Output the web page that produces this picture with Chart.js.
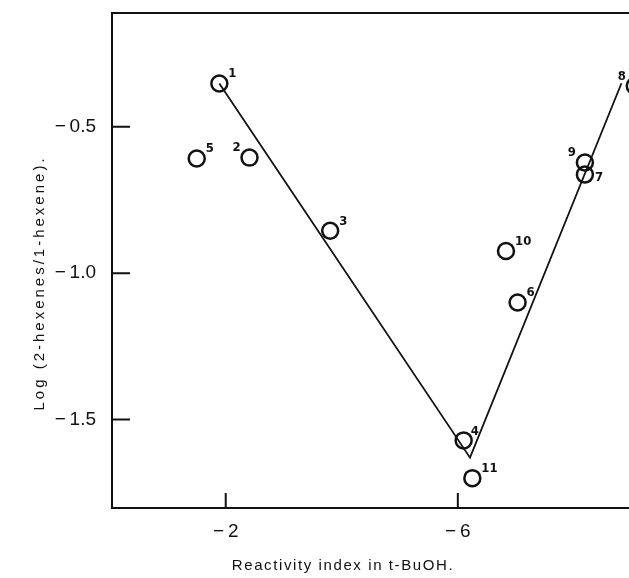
<!DOCTYPE html>
<html>
<head>
<meta charset="utf-8">
<script src="https://cdn.jsdelivr.net/npm/chart.js@4.4.1/dist/chart.umd.min.js"></script>
<style>
  html, body { margin: 0; padding: 0; background: #fff; }
  #wrap { width: 629px; height: 578px; }
</style>
</head>
<body>
<div id="wrap"><canvas id="myChart"></canvas></div>
<script>
// compounds (point numbers), reactivity index and log ratio
var pointLabels = ["1", "2", "3", "4", "5", "6", "7", "8", "9", "10", "11"];
var reactivity  = [-1.89, -2.41, -3.80, -6.10, -1.50, -7.03, -8.19, -9.05, -8.19, -6.83, -6.25];
var logRatio    = [-0.352, -0.605, -0.855, -1.571, -0.608, -1.100, -0.663, -0.360, -0.622, -0.924, -1.700];

// the drawn V-shaped line
var lineX = [-1.89, -6.21, -8.82];
var lineY = [-0.352, -1.63, -0.351];

var xTicks = [-2, -6];
var yTicks = [-0.5, -1.0, -1.5];

var xTitle = "Reactivity index in t-BuOH.";
var yTitle = "Log (2-hexenes/1-hexene).";

function minus(v, digits) {
    var s = Math.abs(v).toFixed(digits);
    return v < 0 ? "\u2212\u2009" + s : s;
}

// little numbers next to the circles
var labelPlugin = {
    id: 'pointNumbers',
    afterDatasetsDraw: function(chart) {
        var ctx = chart.ctx;
        var meta = chart.getDatasetMeta(1);
        ctx.save();
        ctx.fillStyle = '#111';
        ctx.font = 'bold 13px "Liberation Sans Narrow", "DejaVu Sans Condensed", sans-serif';
        ctx.textBaseline = 'bottom';
        meta.data.forEach(function(pt, i) {
            var lab = pointLabels[i];
            var dx = 9, dy = -3, align = 'left';
            if (lab === "2" || lab === "9" || lab === "8") { dx = -9; align = 'right'; }
            if (lab === "7") { dy = 10; dx = 10; }
            if (lab === "4") { dx = 7; dy = -2; }
            ctx.textAlign = align;
            ctx.fillText(lab, pt.x + dx, pt.y + dy);
        });
        ctx.restore();
    }
};

// frame top, inward tick marks, axis titles
var framePlugin = {
    id: 'frame',
    afterDraw: function(chart) {
        var ctx = chart.ctx;
        var a = chart.chartArea;
        var xs = chart.scales.x, ys = chart.scales.y;
        ctx.save();
        ctx.strokeStyle = '#111';
        ctx.lineWidth = 2;
        ctx.beginPath();
        ctx.moveTo(a.left - 1, a.top);
        ctx.lineTo(a.right, a.top);
        xTicks.forEach(function(v) {
            var px = xs.getPixelForValue(v);
            ctx.moveTo(px, a.bottom);
            ctx.lineTo(px, a.bottom - 15);
        });
        yTicks.forEach(function(v) {
            var py = ys.getPixelForValue(v);
            ctx.moveTo(a.left, py);
            ctx.lineTo(a.left + 18, py);
        });
        ctx.stroke();

        ctx.fillStyle = '#111';
        ctx.font = '15px "Liberation Sans", Arial, sans-serif';
        ctx.letterSpacing = '1.6px';
        ctx.textAlign = 'center';
        ctx.textBaseline = 'middle';
        ctx.fillText(xTitle, 343, 566);
        ctx.letterSpacing = '3px';
        ctx.translate(40, 283);
        ctx.rotate(-Math.PI / 2);
        ctx.fillText(yTitle, 0, 0);
        ctx.restore();
    }
};

var ctx = document.getElementById("myChart");

new Chart(ctx, {
    type: 'scatter',
    data: {
        datasets: [{
            label: 'line',
            data: lineX.map(function(x, i) { return {x: x, y: lineY[i]}; }),
            showLine: true,
            borderColor: '#111',
            borderWidth: 1.8,
            pointRadius: 0,
            fill: false
        }, {
            label: 'compounds',
            data: reactivity.map(function(x, i) { return {x: x, y: logRatio[i]}; }),
            pointStyle: 'circle',
            pointRadius: 8,
            pointBorderWidth: 2.5,
            borderColor: '#111',
            backgroundColor: 'rgba(0,0,0,0)',
            clip: false
        }]
    },
    options: {
        responsive: true,
        maintainAspectRatio: false,
        animation: false,
        layout: { autoPadding: false, padding: { top: 13, right: 0, left: 0, bottom: 0 } },
        scales: {
            x: {
                type: 'linear',
                reverse: true,
                min: -8.95,
                max: -0.04,
                afterFit: function(scale) {
                    scale.height = 70;
                    scale.paddingLeft = 0;
                    scale.paddingRight = 0;
                },
                afterBuildTicks: function(axis) {
                    axis.ticks = xTicks.map(function(v) { return {value: v}; });
                },
                grid: { display: true, drawOnChartArea: false, drawTicks: false },
                border: { display: true, color: '#111', width: 2 },
                ticks: {
                    color: '#111',
                    padding: 12,
                    maxRotation: 0,
                    font: { size: 19, family: '"Liberation Sans", Arial, sans-serif' },
                    callback: function(v) { return minus(v, 0); }
                }
            },
            y: {
                type: 'linear',
                min: -1.802,
                max: -0.111,
                afterFit: function(scale) {
                    scale.width = 112;
                    scale.paddingTop = 0;
                    scale.paddingBottom = 0;
                },
                afterBuildTicks: function(axis) {
                    axis.ticks = yTicks.map(function(v) { return {value: v}; });
                },
                grid: { display: true, drawOnChartArea: false, drawTicks: false },
                border: { display: true, color: '#111', width: 2 },
                ticks: {
                    color: '#111',
                    padding: 16,
                    font: { size: 19, family: '"Liberation Sans", Arial, sans-serif' },
                    callback: function(v) { return minus(v, 1); }
                }
            }
        },
        plugins: {
            legend: { display: false },
            tooltip: { enabled: false }
        }
    },
    plugins: [labelPlugin, framePlugin]
});
</script>
</body>
</html>
